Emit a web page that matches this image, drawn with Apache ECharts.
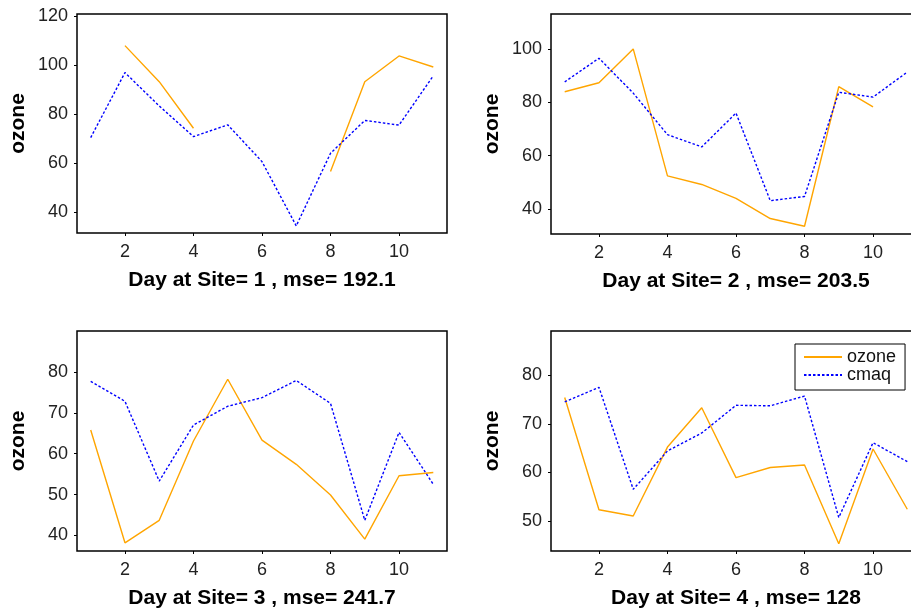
<!DOCTYPE html>
<html>
<head>
<meta charset="utf-8">
<script src="https://cdn.jsdelivr.net/npm/echarts@6/dist/echarts.min.js"></script>
<style>
  html, body { margin: 0; padding: 0; background: #fff; }
  #main { width: 911px; height: 608px; }
</style>
</head>
<body>
<div id="main"></div>
<script>
// days 1..11, ozone observed vs cmaq model, per site
var days = [1, 2, 3, 4, 5, 6, 7, 8, 9, 10, 11]
var xTicks = [2, 4, 6, 8, 10]

var ozone1 = [null, 107.9, 93.2, 74.2, null, null, null, 56.6, 93.2, 103.7, 99.2]
var cmaq1 = [70.4, 96.9, 83.3, 70.8, 75.6, 60.6, 34.4, 64.0, 77.4, 75.5, 95.6]
var ozone2 = [84.0, 87.4, 100.1, 52.4, 49.2, 44.0, 36.4, 33.5, 85.9, 78.3, null]
var cmaq2 = [87.7, 96.6, 83.5, 67.9, 63.3, 76.0, 43.1, 44.7, 83.8, 82.0, 91.4]
var ozone3 = [65.8, 38.2, 43.7, 63.1, 78.2, 63.3, 57.4, 49.9, 39.1, 54.6, 55.4]
var cmaq3 = [77.7, 72.8, 53.3, 67.0, 71.6, 73.7, 77.9, 72.3, 43.7, 65.2, 52.5]
var ozone4 = [75.4, 52.3, 51.0, 65.2, 73.3, 58.9, 61.0, 61.5, 45.3, 64.8, 52.4]
var cmaq4 = [74.5, 77.5, 56.5, 64.4, 68.1, 73.8, 73.7, 75.7, 50.7, 66.1, 62.2]

var titles = [
  'Day at Site= 1 , mse= 192.1',
  'Day at Site= 2 , mse= 203.5',
  'Day at Site= 3 , mse= 241.7',
  'Day at Site= 4 , mse= 128'
]
var yTicks = [
  [40, 60, 80, 100, 120],
  [40, 60, 80, 100],
  [40, 50, 60, 70, 80],
  [50, 60, 70, 80]
]
var yRanges = [[31.5, 120.8], [30.6, 113.2], [36.2, 90], [43.8, 89.1]]

var ozoneAll = [ozone1, ozone2, ozone3, ozone4]
var cmaqAll = [cmaq1, cmaq2, cmaq3, cmaq4]

var FONT = '"Liberation Sans", Arial, sans-serif'
// right-hand panels run past the page edge, as in the original
var grids = [
  { left: 77, top: 14, width: 370, height: 219 },
  { left: 551, top: 14, width: 370, height: 220 },
  { left: 77, top: 331, width: 370, height: 220 },
  { left: 551, top: 331, width: 370, height: 220 }
]

function toPairs(vals) {
  return vals.map(function(v, i) {
    return [days[i], v === null ? '-' : v]
  })
}

var chart = echarts.init(document.getElementById('main'))
var xAxes = []
var yAxes = []
var series = []
for (var i = 0; i < 4; i++) {
  grids[i].show = true
  grids[i].borderColor = '#000'
  grids[i].borderWidth = 1.5
  grids[i].backgroundColor = 'transparent'
  grids[i].outerBoundsMode = 'none'
  grids[i].containLabel = false
  xAxes.push({
    type: 'value',
    gridIndex: i,
    min: 0.6,
    max: 11.4,
    name: titles[i],
    nameLocation: 'middle',
    nameGap: 37,
    nameTextStyle: { fontFamily: FONT, fontSize: 21, fontWeight: 'bold', color: '#000' },
    axisLine: { show: false },
    axisTick: { show: true, inside: false, length: 3, customValues: xTicks, lineStyle: { color: '#000' } },
    axisLabel: { customValues: xTicks, margin: 10, fontFamily: FONT, fontSize: 18, color: '#222' },
    splitLine: { show: false }
  })
  yAxes.push({
    type: 'value',
    gridIndex: i,
    min: yRanges[i][0],
    max: yRanges[i][1],
    name: 'ozone',
    nameLocation: 'middle',
    nameGap: 48,
    nameTextStyle: { fontFamily: FONT, fontSize: 21, fontWeight: 'bold', color: '#000' },
    axisLine: { show: false },
    axisTick: { show: true, inside: false, length: 3, customValues: yTicks[i], lineStyle: { color: '#000' } },
    axisLabel: { customValues: yTicks[i], margin: 9, fontFamily: FONT, fontSize: 18, color: '#222' },
    splitLine: { show: false }
  })
  series.push({
    name: 'ozone',
    type: 'line',
    xAxisIndex: i,
    yAxisIndex: i,
    symbol: 'none',
    connectNulls: false,
    lineStyle: { color: '#FFA500', width: 1.4 },
    itemStyle: { color: '#FFA500' },
    data: toPairs(ozoneAll[i])
  })
  series.push({
    name: 'cmaq',
    type: 'line',
    xAxisIndex: i,
    yAxisIndex: i,
    symbol: 'none',
    lineStyle: { color: '#0000FF', width: 1.4, type: [2.5, 2] },
    itemStyle: { color: '#0000FF' },
    data: toPairs(cmaqAll[i])
  })
}

chart.setOption({
  animation: false,
  backgroundColor: '#fff',
  legend: {
    data: ['ozone', 'cmaq'],
    orient: 'vertical',
    left: 795,
    top: 344,
    padding: [4, 9, 6, 8],
    itemWidth: 38,
    itemHeight: 14,
    itemGap: 0,
    borderColor: '#000',
    borderWidth: 1,
    borderRadius: 0,
    backgroundColor: '#fff',
    itemStyle: { color: 'rgba(0,0,0,0)', borderWidth: 0 },
    textStyle: { fontFamily: FONT, fontSize: 18, color: '#111' }
  },
  grid: grids,
  xAxis: xAxes,
  yAxis: yAxes,
  series: series
})
</script>
</body>
</html>
